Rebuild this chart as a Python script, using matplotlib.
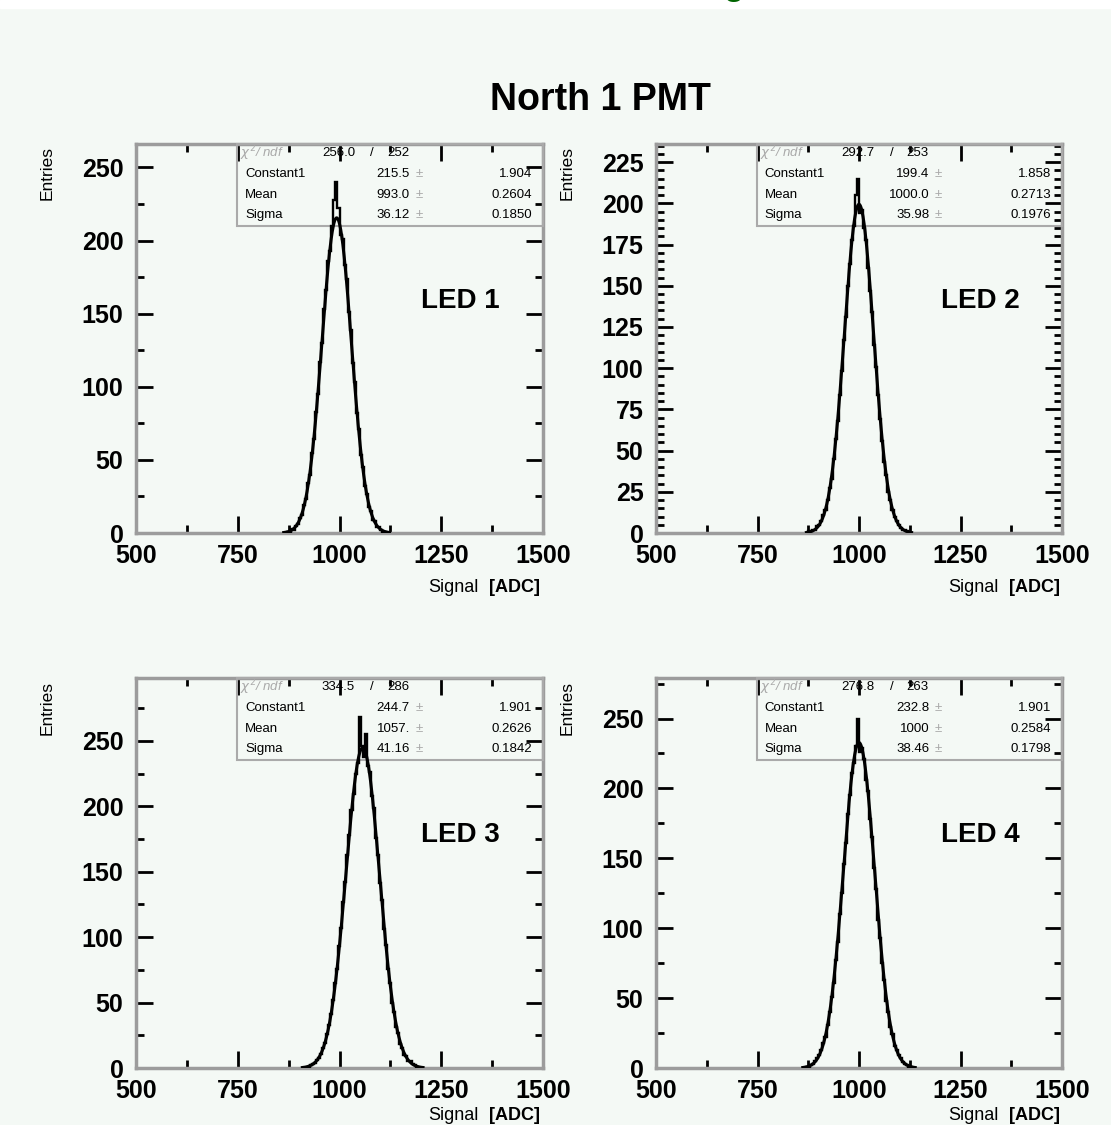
import numpy as np
import matplotlib.pyplot as plt
from matplotlib.patches import Rectangle
from matplotlib.ticker import MultipleLocator

# =============================
# DATA
# =============================

led_names = ["LED 1", "LED 2", "LED 3", "LED 4"]

# histogram contents, 5 ADC bins, starting at hist_start
hist_start = [870, 875, 922, 870]
bin_width = 5

hist_led1 = [1, 1, 3, 2, 5, 6, 10, 12, 19, 23, 34, 40, 55, 64, 83, 95, 117, 130,
             153, 166, 186, 193, 210, 228, 240, 222, 204, 201, 183, 174, 151, 139,
             116, 103, 82, 71, 53, 45, 32, 27, 18, 15, 9, 8, 4, 4, 2, 1, 1, 0]
hist_led2 = [1, 1, 2, 2, 4, 5, 7, 11, 14, 20, 27, 33, 45, 57, 68, 84, 98, 117,
             131, 150, 163, 178, 186, 205, 215, 194, 196, 185, 178, 161, 147, 134,
             114, 101, 84, 69, 56, 43, 35, 25, 20, 14, 10, 7, 5, 3, 2, 2, 1, 0]
hist_led3 = [1, 2, 3, 4, 6, 8, 11, 15, 19, 26, 33, 41, 52, 65, 76, 93, 107, 127,
             142, 163, 178, 197, 209, 225, 233, 268, 246, 238, 255, 231, 226, 208,
             199, 176, 163, 141, 128, 106, 94, 76, 65, 50, 43, 31, 27, 18, 15, 10,
             9, 5, 5, 3, 2, 1]
hist_led4 = [1, 1, 2, 3, 5, 7, 9, 13, 18, 22, 31, 40, 51, 61, 77, 90, 110, 125,
             146, 161, 182, 195, 211, 218, 230, 250, 226, 229, 221, 206, 198, 178,
             165, 143, 128, 106, 93, 75, 63, 48, 40, 29, 24, 16, 13, 9, 7, 4, 3, 2,
             1, 1]
hists = [hist_led1, hist_led2, hist_led3, hist_led4]

# gaussian fit results shown in the stat boxes
fit_const = [215.5, 199.4, 244.7, 232.8]
fit_mean = [993.0, 1000.0, 1057.0, 1000.0]
fit_sigma = [36.12, 35.98, 41.16, 38.46]

chi2_txt = ["256.0", "292.7", "334.5", "276.8"]
ndf_txt = ["252", "253", "286", "263"]
const_txt = ["215.5", "199.4", "244.7", "232.8"]
const_err = ["1.904", "1.858", "1.901", "1.901"]
mean_txt = ["993.0", "1000.0", "1057.", "1000"]
mean_err = ["0.2604", "0.2713", "0.2626", "0.2584"]
sigma_txt = ["36.12", "35.98", "41.16", "38.46"]
sigma_err = ["0.1850", "0.1976", "0.1842", "0.1798"]

y_max = [266, 236, 298, 279]
y_major = [50, 25, 50, 50]
y_minor = [25, 5, 25, 25]

# =============================
# LAYOUT
# =============================

W, H = 1111, 1125
bg = "#f4f9f5"
frame_col = "#9c9c9c"
FONT = ["Liberation Sans", "DejaVu Sans"]
plt.rcParams["font.family"] = FONT

fig = plt.figure(figsize=(W / 100, H / 100), dpi=100, facecolor=bg)
fig.patches.append(Rectangle((0, 1 - 8 / H), 1, 8 / H, transform=fig.transFigure,
                             color="white", zorder=0))
# green title above, only the tail is visible
fig.text(734 / W, 1 + 5 / H, "g", color="#006400", fontsize=24, fontweight="bold",
         ha="center", va="baseline")

fig.text(600 / W, 1 - 100 / H, "North 1 PMT", fontsize=27, fontweight="bold",
         ha="center", va="center")

positions = [
    [136, 533, 407, 389],
    [656, 533, 406, 389],
    [136, 1068, 407, 390],
    [656, 1068, 406, 390],
]

for i in range(4):
    x0, yb, w, h = positions[i]
    ax = fig.add_axes([x0 / W, 1 - yb / H, w / W, h / H])
    ax.set_facecolor(bg)

    edges = hist_start[i] + bin_width * np.arange(len(hists[i]) + 1)
    ax.stairs(hists[i], edges, color="black", lw=1.7, zorder=4)

    xf = np.linspace(fit_mean[i] - 3.6 * fit_sigma[i], fit_mean[i] + 3.6 * fit_sigma[i], 300)
    yf = fit_const[i] * np.exp(-0.5 * ((xf - fit_mean[i]) / fit_sigma[i]) ** 2)
    ax.plot(xf, yf, color="black", lw=2.2, zorder=5)

    ax.set_xlim(500, 1500)
    ax.set_ylim(0, y_max[i])
    ax.xaxis.set_major_locator(MultipleLocator(250))
    ax.xaxis.set_minor_locator(MultipleLocator(125))
    ax.yaxis.set_major_locator(MultipleLocator(y_major[i]))
    ax.yaxis.set_minor_locator(MultipleLocator(y_minor[i]))
    ax.tick_params(which="both", direction="in", top=True, right=True, color="black")
    ax.tick_params(which="major", length=12, width=2)
    ax.tick_params(which="minor", length=6, width=2)
    ax.tick_params(axis="x", pad=8)
    ax.tick_params(axis="y", pad=9)
    for lab in ax.get_xticklabels() + ax.get_yticklabels():
        lab.set_fontsize(18)
        lab.set_fontweight("bold")
    for sp in ax.spines.values():
        sp.set_color(frame_col)
        sp.set_linewidth(2.5)

    # stat box
    ax.add_patch(Rectangle((0.248, 0.79), 0.752, 0.21, transform=ax.transAxes,
                           fill=False, edgecolor="#aaaaaa", lw=1.5, zorder=3,
                           clip_on=False))
    rows = [0.977, 0.922, 0.869, 0.817]
    ax.text(0.256, rows[0], r"$\chi^2$/ ndf", color="#aaaaaa", fontsize=9.5,
            style="italic", ha="left", va="center", transform=ax.transAxes)
    ax.text(0.538, rows[0], chi2_txt[i], fontsize=9.5, ha="right", va="center",
            transform=ax.transAxes)
    ax.text(0.58, rows[0], "/", fontsize=9.5, ha="center", va="center",
            transform=ax.transAxes)
    ax.text(0.617, rows[0], ndf_txt[i], fontsize=9.5, ha="left", va="center",
            transform=ax.transAxes)
    names = ["Constant1", "Mean", "Sigma"]
    vals = [const_txt[i], mean_txt[i], sigma_txt[i]]
    errs = [const_err[i], mean_err[i], sigma_err[i]]
    for r in range(3):
        yy = rows[r + 1]
        ax.text(0.268, yy, names[r], fontsize=9.5, ha="left", va="center",
                transform=ax.transAxes)
        ax.text(0.673, yy, vals[r], fontsize=9.5, ha="right", va="center",
                transform=ax.transAxes)
        ax.text(0.695, yy, "±", fontsize=9.5, color="#aaaaaa", ha="center",
                va="center", transform=ax.transAxes)
        ax.text(0.973, yy, errs[r], fontsize=9.5, ha="right", va="center",
                transform=ax.transAxes)

    ax.text(0.798, 0.597, led_names[i], fontsize=20, fontweight="bold",
            ha="center", va="center", transform=ax.transAxes)

    # axis titles
    fig.text((x0 - 89) / W, 1 - (yb - 389 + 2) / H, "Entries", fontsize=12.5,
             rotation=90, ha="center", va="top")
    sig_y = min(yb + 54, H - 10)
    fig.text((x0 + 343) / W, 1 - sig_y / H, "Signal", fontsize=13,
             ha="right", va="center")
    fig.text((x0 + 404) / W, 1 - sig_y / H, "[ADC]", fontsize=13,
             fontweight="bold", ha="right", va="center")

fig.savefig("out.png", dpi=100, facecolor=bg)
